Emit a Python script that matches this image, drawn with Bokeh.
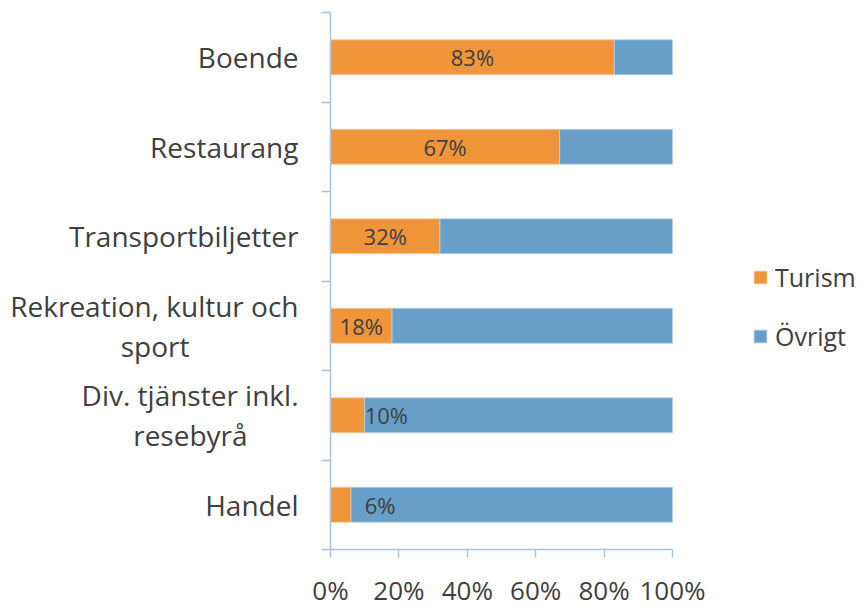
from bokeh.plotting import figure
from bokeh.models import (ColumnDataSource, Range1d, FixedTicker, Legend, LegendItem)
from bokeh.core.properties import value
from bokeh.embed import file_html
from bokeh.resources import INLINE

categories = ["Boende", "Restaurang", "Transportbiljetter",
              "Rekreation, kultur och\nsport", "Div. tjänster inkl.\nresebyrå", "Handel"]
turism = [83, 67, 32, 18, 10, 6]
ovrigt = [100 - t for t in turism]
x_ticks = [0, 20, 40, 60, 80, 100]
x_tick_labels = ["0%", "20%", "40%", "60%", "80%", "100%"]

ORANGE = "#F0953A"
BLUE = "#679FC8"
AXIS = "#A7C3DF"
TEXT = "#404040"
FONT = "Open Sans"

# layout (pixels)
W, H = 860, 610
LEFT, TOP, BOTTOM = 330, 12, 55
BAR_PX = 342                       # pixels spanned by 0..100 %
FRAME_W = W - LEFT

# approximate Open Sans advance widths (em) to centre multi-line labels
_w = {" ": .26, "\u00a0": .26, ".": .267, ",": .25, "a": .556, "b": .613, "c": .48,
      "e": .561, "h": .614, "i": .258, "j": .258, "k": .529, "l": .258, "n": .614,
      "o": .6, "p": .613, "r": .409, "s": .477, "t": .352, "u": .614, "v": .5,
      "y": .5, "å": .556, "ä": .556, "D": .7, "R": .612}


def _width(s):
    return sum(_w.get(ch, .56) for ch in s)


def centred(label):
    lines = label.split("\n")
    if len(lines) == 1:
        return label
    m = max(_width(s) for s in lines)
    return "\n".join(s + "\u00a0" * round((m - _width(s)) / 2 / .26) for s in lines)


n = len(categories)
ypos = [n - i - 0.5 for i in range(n)]

src = ColumnDataSource(dict(
    y=ypos, turism=turism, ovrigt=ovrigt, zero=[0] * n, total=[100] * n,
    lab=[f"{t}%" for t in turism],
    lx=[t / 2 if t >= 15 else 10 for t in turism],
    la=["center" if t >= 15 else "left" for t in turism],
))

p = figure(width=W, height=H, output_backend="svg", toolbar_location=None,
           x_range=Range1d(0, 100 * FRAME_W / BAR_PX), y_range=Range1d(0, n),
           min_border_left=LEFT, min_border_right=0, min_border_top=TOP,
           min_border_bottom=BOTTOM)
p.outline_line_color = None
p.grid.visible = False
p.background_fill_color = "white"
p.border_fill_color = "white"

r1 = p.hbar(y="y", left="zero", right="turism", height=0.39, source=src,
            fill_color=ORANGE, line_color="#F6C9A0", line_width=0.8)
r2 = p.hbar(y="y", left="turism", right="total", height=0.39, source=src,
            fill_color=BLUE, line_color="#B7D0E4", line_width=0.8)

p.text(x="lx", y="y", text="lab", text_align="la", text_baseline="middle",
       source=src, text_font=value(FONT), text_font_size="22px", text_color=TEXT)

# x axis
xa = p.xaxis[0]
xa.bounds = (0, 100)
xa.ticker = FixedTicker(ticks=x_ticks)
xa.major_label_overrides = {t: l for t, l in zip(x_ticks, x_tick_labels)}
xa.axis_line_color = AXIS
xa.axis_line_width = 1.5
xa.major_tick_line_color = AXIS
xa.major_tick_line_width = 1.5
xa.major_tick_in = 0
xa.major_tick_out = 8
xa.minor_tick_line_color = None
xa.major_label_text_font = FONT
xa.major_label_text_font_size = "26px"
xa.major_label_text_color = TEXT
xa.major_label_text_line_height = 1.0
xa.major_label_standoff = 14

# y axis: labels at category centres, tick marks at boundaries
ya = p.yaxis[0]
ya.ticker = FixedTicker(ticks=ypos, minor_ticks=list(range(n + 1)))
ya.major_label_overrides = {y: centred(c) for y, c in zip(ypos, categories)}
ya.axis_line_color = AXIS
ya.axis_line_width = 1.5
ya.major_tick_line_color = None
ya.minor_tick_line_color = AXIS
ya.minor_tick_line_width = 1.5
ya.minor_tick_in = 0
ya.minor_tick_out = 9
ya.major_label_text_font = FONT
ya.major_label_text_font_size = "28px"
ya.major_label_text_color = TEXT
ya.major_label_text_line_height = 1.05
ya.major_label_standoff = 23

legend = Legend(items=[LegendItem(label="Turism", renderers=[r1]),
                       LegendItem(label="Övrigt", renderers=[r2])],
                location=(422, 196), orientation="vertical",
                glyph_width=16, glyph_height=16, label_height=30, spacing=25,
                padding=0, margin=0, label_standoff=7,
                label_text_font=FONT, label_text_font_size="25px", label_text_color=TEXT,
                border_line_color=None, background_fill_alpha=0)
p.add_layout(legend, "center")

open("out.html", "w").write(file_html(p, INLINE))
